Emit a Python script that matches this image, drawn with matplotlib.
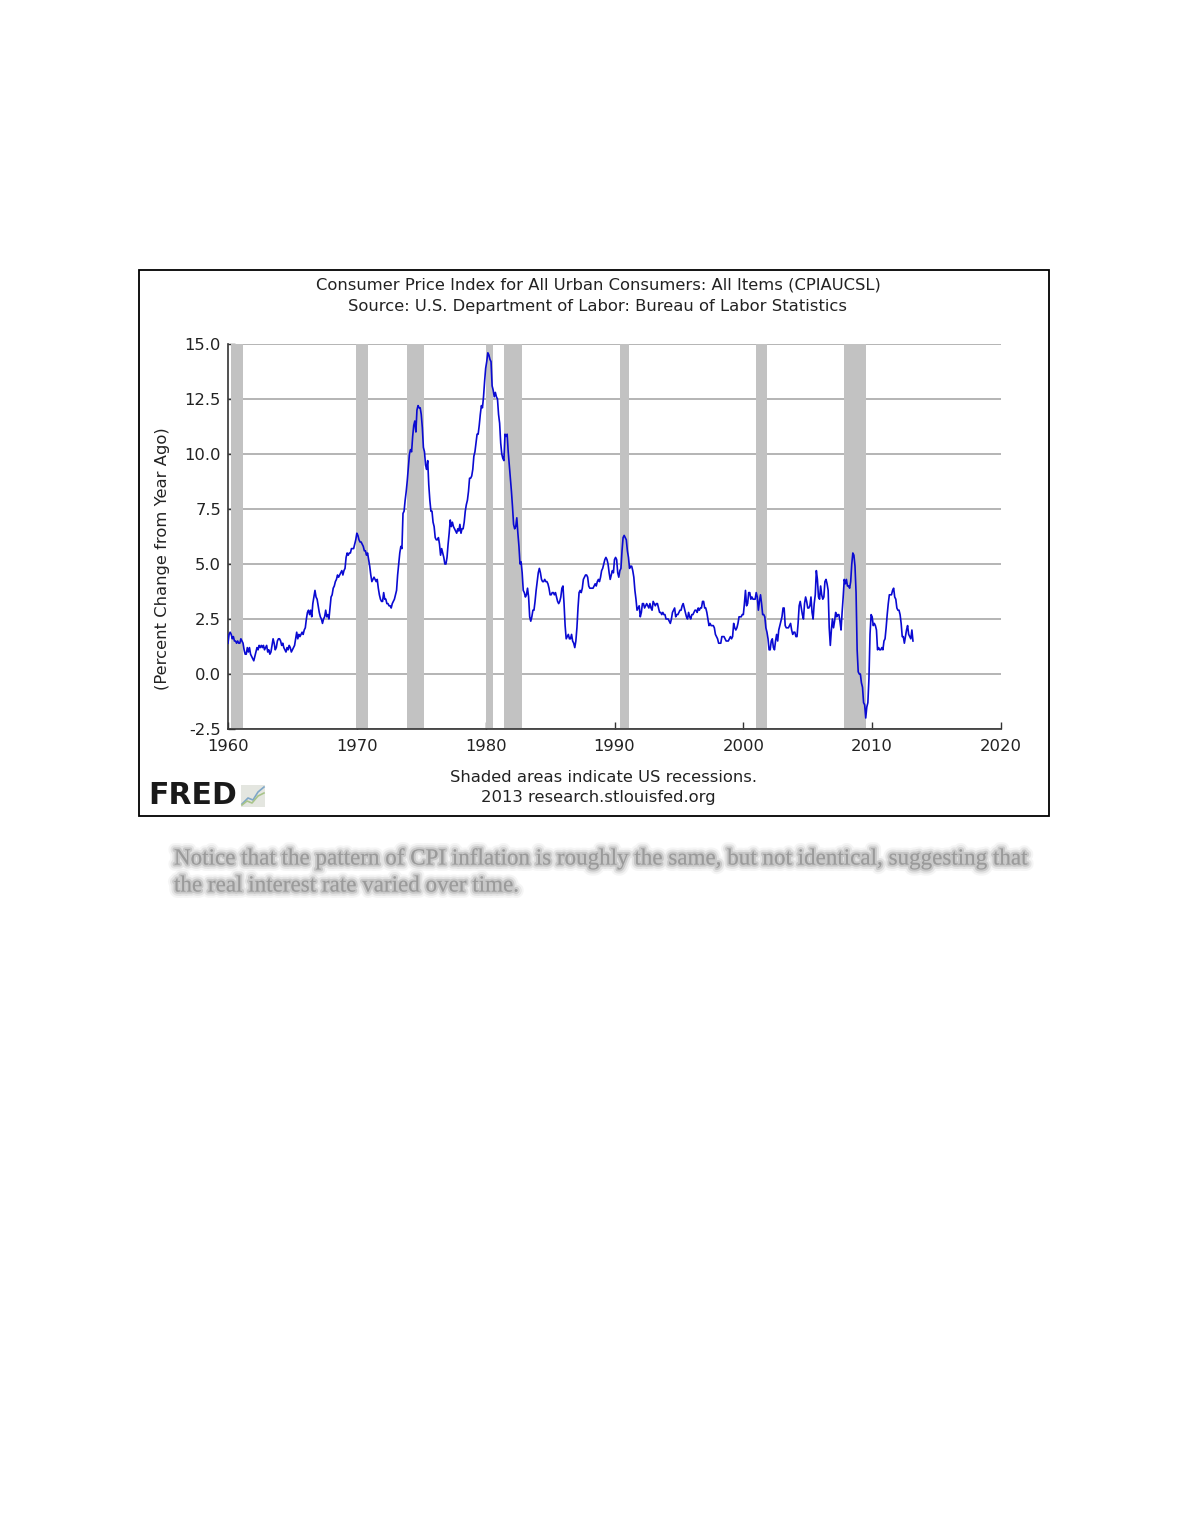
import numpy as np
import matplotlib
matplotlib.use("Agg")
import matplotlib.pyplot as plt
import matplotlib.patches as mpatches
import matplotlib.lines as mlines
import matplotlib.patheffects as pe

plt.rcParams["font.family"] = ["DejaVu Sans"]

# CPIAUCSL, percent change from a year ago, monthly from Jan 1960
start_year = 1960
cpi_yoy = [
    1.4, 1.8, 1.9, 1.8, 1.6, 1.7, 1.5, 1.5, 1.4, 1.5, 1.4, 1.4,   # 1960
    1.6, 1.5, 1.4, 1.1, 0.9, 0.9, 1.2, 1.0, 1.2, 0.9, 0.8, 0.7,   # 1961
    0.6, 0.8, 1.0, 1.2, 1.1, 1.3, 1.2, 1.3, 1.2, 1.3, 1.1, 1.2,   # 1962
    1.3, 1.0, 1.1, 0.9, 1.0, 1.3, 1.6, 1.4, 1.1, 1.2, 1.5, 1.6,   # 1963
    1.6, 1.5, 1.3, 1.4, 1.2, 1.1, 1.0, 1.2, 1.1, 1.3, 1.2, 1.0,   # 1964
    1.1, 1.2, 1.3, 1.6, 1.9, 1.6, 1.8, 1.7, 1.8, 1.9, 1.8, 2.0,   # 1965
    2.1, 2.5, 2.8, 2.9, 2.7, 2.9, 2.6, 3.2, 3.5, 3.8, 3.5, 3.4,   # 1966
    3.1, 2.8, 2.6, 2.5, 2.3, 2.5, 2.6, 2.9, 2.6, 2.7, 2.5, 3.0,   # 1967
    3.5, 3.6, 3.9, 4.0, 4.2, 4.3, 4.5, 4.4, 4.5, 4.6, 4.7, 4.5,   # 1968
    4.7, 4.8, 5.3, 5.5, 5.4, 5.5, 5.5, 5.7, 5.7, 5.7, 5.9, 6.1,   # 1969
    6.4, 6.3, 6.1, 6.0, 6.0, 5.9, 5.8, 5.6, 5.6, 5.4, 5.5, 5.2,   # 1970
    4.9, 4.5, 4.2, 4.3, 4.4, 4.3, 4.2, 4.3, 3.9, 3.6, 3.4, 3.3,   # 1971
    3.3, 3.7, 3.4, 3.4, 3.2, 3.2, 3.1, 3.1, 3.0, 3.2, 3.3, 3.4,   # 1972
    3.6, 3.8, 4.5, 5.0, 5.5, 5.8, 5.7, 7.3, 7.4, 7.9, 8.3, 8.8,   # 1973
    9.4, 10.0, 10.2, 10.1, 10.8, 11.3, 11.5, 11.0, 12.0, 12.2, 12.1, 12.1,  # 1974
    11.8, 11.2, 10.3, 10.1, 9.5, 9.3, 9.7, 8.6, 7.9, 7.4, 7.4, 6.9,  # 1975
    6.7, 6.2, 6.1, 6.1, 6.2, 5.9, 5.4, 5.7, 5.5, 5.3, 5.0, 5.0,   # 1976
    5.3, 5.9, 6.4, 7.0, 6.7, 6.9, 6.7, 6.6, 6.5, 6.4, 6.6, 6.5,   # 1977
    6.8, 6.4, 6.6, 6.6, 6.9, 7.4, 7.7, 7.9, 8.3, 8.9, 8.9, 9.0,   # 1978
    9.3, 9.9, 10.1, 10.5, 10.9, 10.9, 11.3, 11.8, 12.2, 12.1, 12.6, 13.3,  # 1979
    13.9, 14.2, 14.6, 14.5, 14.3, 14.2, 13.1, 12.9, 12.6, 12.8, 12.6, 12.5,  # 1980
    11.8, 11.4, 10.5, 10.0, 9.8, 9.7, 10.9, 10.8, 10.9, 10.1, 9.5, 8.9,  # 1981
    8.3, 7.6, 6.8, 6.6, 6.7, 7.1, 6.4, 5.8, 5.0, 5.1, 4.6, 3.8,   # 1982
    3.7, 3.5, 3.6, 3.9, 3.5, 2.6, 2.4, 2.6, 2.9, 2.9, 3.3, 3.8,   # 1983
    4.2, 4.6, 4.8, 4.6, 4.3, 4.2, 4.2, 4.3, 4.2, 4.2, 4.1, 3.9,   # 1984
    3.6, 3.6, 3.7, 3.7, 3.6, 3.7, 3.5, 3.3, 3.2, 3.3, 3.5, 3.9,   # 1985
    4.0, 3.2, 2.2, 1.6, 1.7, 1.8, 1.6, 1.6, 1.8, 1.5, 1.4, 1.2,   # 1986
    1.5, 2.1, 3.0, 3.7, 3.8, 3.7, 3.9, 4.3, 4.4, 4.5, 4.5, 4.4,   # 1987
    4.0, 3.9, 3.9, 3.9, 3.9, 4.0, 4.1, 4.0, 4.2, 4.3, 4.2, 4.4,   # 1988
    4.7, 4.8, 5.0, 5.2, 5.3, 5.2, 5.0, 4.6, 4.3, 4.5, 4.7, 4.6,   # 1989
    5.2, 5.3, 5.2, 4.6, 4.4, 4.7, 4.8, 5.6, 6.2, 6.3, 6.2, 6.1,   # 1990
    5.6, 5.3, 4.8, 4.9, 4.9, 4.7, 4.4, 3.8, 3.4, 2.9, 3.0, 3.1,   # 1991
    2.6, 2.8, 3.2, 3.2, 3.0, 3.1, 3.2, 3.1, 3.0, 3.2, 3.0, 2.9,   # 1992
    3.3, 3.2, 3.1, 3.2, 3.2, 3.0, 2.8, 2.8, 2.7, 2.8, 2.7, 2.7,   # 1993
    2.5, 2.5, 2.5, 2.4, 2.3, 2.5, 2.8, 2.9, 3.0, 2.6, 2.7, 2.7,   # 1994
    2.8, 2.9, 2.9, 3.1, 3.2, 3.0, 2.8, 2.6, 2.5, 2.8, 2.6, 2.5,   # 1995
    2.7, 2.7, 2.8, 2.9, 2.9, 2.8, 3.0, 2.9, 3.0, 3.0, 3.3, 3.3,   # 1996
    3.0, 3.0, 2.8, 2.5, 2.2, 2.3, 2.2, 2.2, 2.2, 2.1, 1.8, 1.7,   # 1997
    1.6, 1.4, 1.4, 1.4, 1.7, 1.7, 1.7, 1.6, 1.5, 1.5, 1.5, 1.6,   # 1998
    1.7, 1.6, 1.7, 2.3, 2.1, 2.0, 2.1, 2.3, 2.6, 2.6, 2.6, 2.7,   # 1999
    2.7, 3.2, 3.8, 3.1, 3.2, 3.7, 3.7, 3.4, 3.5, 3.4, 3.4, 3.4,   # 2000
    3.7, 3.5, 2.9, 3.3, 3.6, 3.2, 2.7, 2.7, 2.6, 2.1, 1.9, 1.6,   # 2001
    1.1, 1.1, 1.5, 1.6, 1.2, 1.1, 1.5, 1.8, 1.5, 2.0, 2.2, 2.4,   # 2002
    2.6, 3.0, 3.0, 2.2, 2.1, 2.1, 2.1, 2.2, 2.3, 2.0, 1.8, 1.9,   # 2003
    1.9, 1.7, 1.7, 2.3, 3.1, 3.3, 3.0, 2.7, 2.5, 3.2, 3.5, 3.3,   # 2004
    3.0, 3.0, 3.1, 3.5, 2.8, 2.5, 3.2, 3.6, 4.7, 4.3, 3.5, 3.4,   # 2005
    4.0, 3.6, 3.4, 3.5, 4.2, 4.3, 4.1, 3.8, 2.1, 1.3, 2.0, 2.5,   # 2006
    2.1, 2.4, 2.8, 2.6, 2.7, 2.7, 2.4, 2.0, 2.8, 3.5, 4.3, 4.1,   # 2007
    4.3, 4.0, 4.0, 3.9, 4.2, 5.0, 5.5, 5.4, 4.9, 3.7, 1.1, 0.1,   # 2008
    0.0, 0.0, -0.4, -0.6, -1.3, -1.4, -2.0, -1.5, -1.3, -0.2, 1.8, 2.7,  # 2009
    2.6, 2.2, 2.3, 2.2, 2.0, 1.1, 1.2, 1.1, 1.1, 1.2, 1.1, 1.5,   # 2010
    1.6, 2.1, 2.7, 3.2, 3.6, 3.6, 3.6, 3.8, 3.9, 3.5, 3.4, 3.0,   # 2011
    2.9, 2.9, 2.7, 2.3, 1.7, 1.7, 1.4, 1.7, 2.0, 2.2, 1.8, 1.7,   # 2012
    1.6, 2.0, 1.5,                                                # 2013
]

# US recessions (shaded), as decimal years
rec_start = [1960.2, 1969.9, 1973.9, 1980.0, 1981.45, 1990.4, 2001.0, 2007.8]
rec_end = [1961.2, 1970.9, 1975.2, 1980.6, 1982.85, 1991.15, 2001.8, 2009.5]

title_lines = ["Consumer Price Index for All Urban Consumers: All Items (CPIAUCSL)",
               "Source: U.S. Department of Labor: Bureau of Labor Statistics"]
y_label = "(Percent Change from Year Ago)"
footer_lines = ["Shaded areas indicate US recessions.",
                "2013 research.stlouisfed.org"]
caption_lines = ["Notice that the pattern of CPI inflation is roughly the same, but not identical, suggesting that",
                 "the real interest rate varied over time."]

W, H = 1180, 1527
fig = plt.figure(figsize=(W / 100, H / 100), dpi=100)
fig.patch.set_facecolor("white")

def fx(px):
    return px / W

def fy(py):
    return 1 - py / H

txt_size = 11.8
txt_color = "#222222"

# outer frame of the FRED graph
fig.patches.append(mpatches.Rectangle((fx(139), fy(816)), fx(1049) - fx(139), fy(270) - fy(816),
                                      transform=fig.transFigure, fill=False,
                                      edgecolor="black", linewidth=1.3))

ax = fig.add_axes([fx(228), fy(729), fx(1001) - fx(228), fy(344) - fy(729)])

years = start_year + np.arange(len(cpi_yoy)) / 12.0
ax.plot(years, cpi_yoy, color="#0a0ad2", linewidth=1.2, zorder=3)

for s, e in zip(rec_start, rec_end):
    ax.axvspan(s, e, color="#c2c2c2", linewidth=0, zorder=2)

ax.set_xlim(1960, 2020)
ax.set_ylim(-2.5, 15)
ax.set_xticks(range(1960, 2021, 10))
ax.set_yticks(np.arange(-2.5, 15.01, 2.5))
ax.set_yticklabels(["%.1f" % v for v in np.arange(-2.5, 15.01, 2.5)])

ax.grid(axis="y", color="#b4b4b4", linewidth=1.4, zorder=1)
ax.set_axisbelow(True)
for side in ["top", "right"]:
    ax.spines[side].set_visible(False)
for side in ["left", "bottom"]:
    ax.spines[side].set_color("#333333")
    ax.spines[side].set_linewidth(1.2)
ax.tick_params(axis="both", direction="in", length=5, width=1, color="#333333",
               labelsize=txt_size, labelcolor=txt_color)
ax.tick_params(axis="x", pad=7)
ax.tick_params(axis="y", pad=5)

fig.text(fx(162), fy(559), y_label, rotation=90, ha="center", va="center",
         fontsize=txt_size, color=txt_color)

fig.text(fx(598), fy(285), title_lines[0], ha="center", va="center", fontsize=txt_size, color=txt_color)
fig.text(fx(597), fy(306), title_lines[1], ha="center", va="center", fontsize=txt_size, color=txt_color)

fig.text(fx(604), fy(777), footer_lines[0], ha="center", va="center", fontsize=txt_size, color=txt_color)
fig.text(fx(598), fy(798), footer_lines[1], ha="center", va="center", fontsize=txt_size, color=txt_color)

# FRED logo
fig.text(fx(148), fy(796), "FRED", ha="left", va="center", fontsize=21.5,
         fontweight="heavy", color="#1a1a1a")
fig.patches.append(mpatches.Rectangle((fx(241), fy(807)), fx(24), fy(785) - fy(807),
                                      transform=fig.transFigure, facecolor="#e4e6e0",
                                      edgecolor="none"))
fig.lines.append(mlines.Line2D([fx(242), fx(248), fx(253), fx(258), fx(264)],
                               [fy(804), fy(798), fy(800), fy(792), fy(787)],
                               transform=fig.transFigure, color="#7fa7c8", linewidth=1.2))
fig.lines.append(mlines.Line2D([fx(242), fx(247), fx(252), fx(258), fx(264)],
                               [fy(805), fy(801), fy(803), fy(796), fy(793)],
                               transform=fig.transFigure, color="#a8c48a", linewidth=1.2))

# blurred caption text beneath the chart
blur = [pe.Stroke(linewidth=9, foreground="#c8c8c8", alpha=0.18),
        pe.Stroke(linewidth=6, foreground="#b0b0b0", alpha=0.25),
        pe.Stroke(linewidth=3, foreground="#a0a0a0", alpha=0.4),
        pe.Normal()]
for i, line in enumerate(caption_lines):
    t = fig.text(fx(174), fy(859 + 27 * i), line, ha="left", va="center",
                 fontsize=16.6, family="Liberation Serif", color="#909090", alpha=0.6)
    t.set_path_effects(blur)

fig.savefig("out.png", dpi=100, facecolor="white")
